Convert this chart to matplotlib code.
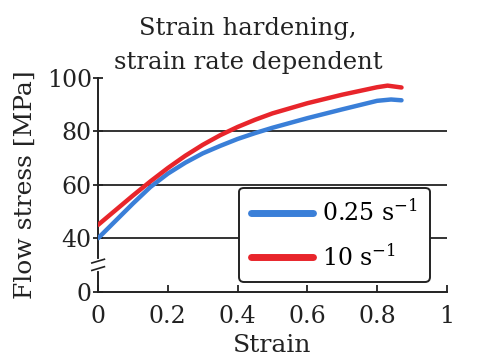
import matplotlib.pyplot as plt
from matplotlib.lines import Line2D

# strain values and flow stress [MPa]
strain_slow = [0, 0.05, 0.1, 0.15, 0.2, 0.25, 0.3, 0.35, 0.4, 0.45, 0.5, 0.6, 0.7, 0.8, 0.84, 0.87]
stress_slow = [40, 46.5, 53, 59.2, 64.2, 68.3, 71.8, 74.6, 77.2, 79.4, 81.4, 85, 88.3, 91.5, 92, 91.7]
strain_fast = [0, 0.05, 0.1, 0.15, 0.2, 0.25, 0.3, 0.35, 0.4, 0.45, 0.5, 0.6, 0.7, 0.8, 0.83, 0.87]
stress_fast = [45, 50.5, 56, 61.3, 66.3, 70.9, 75, 78.6, 81.7, 84.4, 86.8, 90.6, 93.8, 96.6, 97.2, 96.5]
labels = ["0.25 s$^{\\mathregular{-1}}$", "10 s$^{\\mathregular{-1}}$"]
xticks = [0, 0.2, 0.4, 0.6, 0.8, 1]
yticks = [0, 40, 60, 80, 100]

# axis is broken between 0 and 40: 0 is drawn where 20 would be
def ypos(v):
    return 20 if v == 0 else v

plt.rcParams['font.family'] = ['DejaVu Serif']
plt.rcParams['mathtext.fontset'] = 'dejavuserif'

fig = plt.figure(figsize=(4.81, 3.61), dpi=100)
ax = fig.add_axes([0.204, 0.1925, 0.725, 0.591])

blue = '#3a7fd8'
red = '#e8252b'
ax.plot(strain_slow, stress_slow, color=blue, lw=3.2, solid_capstyle='round', zorder=3)
ax.plot(strain_fast, stress_fast, color=red, lw=3.2, solid_capstyle='round', zorder=3)

for v in yticks[1:-1]:
    ax.axhline(v, color='#333333', lw=1.4, zorder=1)

ax.set_xlim(0, 1)
ax.set_ylim(20, 100)
ax.set_xticks(xticks)
ax.set_xticklabels(["0" if t == 0 else ("1" if t == 1 else f"{t:g}") for t in xticks])
ax.set_yticks([ypos(v) for v in yticks])
ax.set_yticklabels([str(v) for v in yticks])
ax.tick_params(axis='both', labelsize=17, width=1.3, length=5, color='#222222',
               labelcolor='#222222')
ax.tick_params(axis='x', direction='in', pad=10)
ax.tick_params(axis='y', direction='inout', length=7, pad=1)
for s in ['top', 'right']:
    ax.spines[s].set_visible(False)
for s in ['left', 'bottom']:
    ax.spines[s].set_linewidth(1.4)
    ax.spines[s].set_color('#222222')

# break marks on the y axis
trans = ax.get_yaxis_transform()
ax.plot([0, 0], [28.5, 31.5], transform=trans, color='white', lw=3, clip_on=False, zorder=5)
for yb in [28.6, 31.4]:
    ax.plot([-0.018, 0.018], [yb - 0.7, yb + 0.7], transform=trans, color='#222222', lw=1.2,
            clip_on=False, zorder=6)

ax.set_xlabel("Strain", fontsize=18, labelpad=4, color='#222222')
ax.set_ylabel("Flow stress [MPa]", fontsize=18, labelpad=7, color='#222222')
fig.text(0.516, 0.795, "Strain hardening,\nstrain rate dependent", fontsize=17.5,
         ha='center', va='bottom', linespacing=1.6, color='#222222')

handles = [Line2D([], [], color=blue, lw=5, solid_capstyle='round'),
           Line2D([], [], color=red, lw=5, solid_capstyle='round')]
leg = ax.legend(handles, labels, loc='lower right', bbox_to_anchor=(0.951, 0.045),
                borderaxespad=0, fontsize=17, frameon=True, fancybox=True, framealpha=1,
                edgecolor='#222222', handlelength=2.6, handletextpad=0.4, borderpad=0.5,
                labelspacing=0.75)
leg.get_frame().set_linewidth(1.4)

fig.savefig("out.png", dpi=100)
